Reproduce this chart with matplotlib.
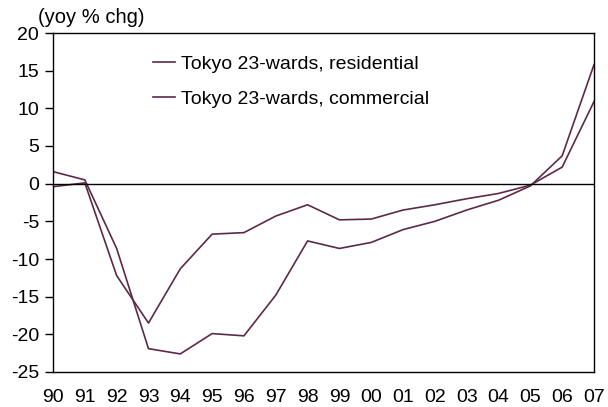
import matplotlib.pyplot as plt
import numpy as np

plt.rcParams['font.family'] = ['Liberation Sans', 'DejaVu Sans']
plt.rcParams['axes.unicode_minus'] = False

years = ['90', '91', '92', '93', '94', '95', '96', '97', '98', '99',
         '00', '01', '02', '03', '04', '05', '06', '07']
residential = [-0.4, 0.1, -12.2, -18.5, -11.3, -6.7, -6.5, -4.3, -2.8, -4.8,
               -4.7, -3.5, -2.8, -2.0, -1.3, -0.2, 2.2, 10.9]
commercial = [1.6, 0.5, -8.6, -21.9, -22.6, -19.9, -20.2, -14.8, -7.6, -8.6,
              -7.8, -6.1, -5.0, -3.5, -2.2, -0.3, 3.7, 15.8]

line_color = '#5c2a48'

fig = plt.figure(figsize=(6.08, 4.07), dpi=100)
ax = fig.add_axes([53 / 608, 1 - 372 / 407, 541 / 608, 339 / 407])

x = np.arange(len(years))
ax.plot(x, residential, color=line_color, lw=1.2,
        label='Tokyo 23-wards, residential')
ax.plot(x, commercial, color=line_color, lw=1.2,
        label='Tokyo 23-wards, commercial')
ax.axhline(0, color='black', lw=1)

ax.set_xlim(0, len(years) - 1)
ax.set_ylim(-25, 20)
ax.set_yticks(range(-25, 21, 5))
ax.set_xticks(x)
ax.set_xticklabels(years)
ax.tick_params(axis='x', length=0, pad=12, labelsize=14)
ax.tick_params(axis='y', length=6, width=1, pad=4, labelsize=14)
for s in ax.spines.values():
    s.set_linewidth(1)

ax.legend(loc='upper left', bbox_to_anchor=(0.185, 0.935), frameon=False,
          fontsize=14, handlelength=1.15, handletextpad=0.3,
          labelspacing=0.9, borderpad=0, borderaxespad=0)

fig.text(38 / 608, 1 - 27 / 407, '(yoy % chg)', fontsize=14.5,
         ha='left', va='bottom')

fig.savefig('out.png', dpi=100)
